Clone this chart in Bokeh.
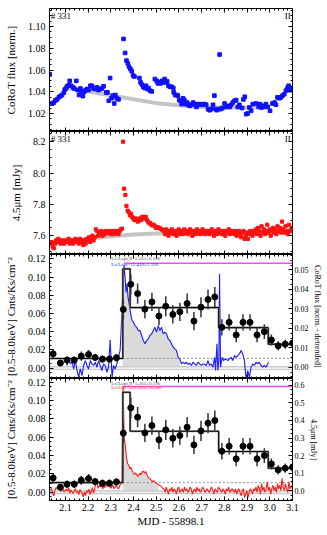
import numpy as np
from bokeh.plotting import figure
from bokeh.models import (Range1d, LinearAxis, FixedTicker, PrintfTickFormatter, Label,
                          CustomLabelingPolicy)
from bokeh.layouts import column
from bokeh.embed import file_html
from bokeh.resources import INLINE

FONT = "Liberation Serif"

# ---------------- Panel 1: CoRoT flux (normalised) ----------------
corot_t = [2.031,2.034,2.042,2.049,2.056,2.064,2.071,2.078,2.085,2.093,
           2.097,2.103,2.107,2.115,2.119,2.125,2.134,2.139,2.148,2.154,
           2.160,2.166,2.170,2.177,2.183,2.189,2.195,2.202,2.210,2.217,
           2.224,2.231,2.239,2.246,2.253,2.261,2.268,2.280,2.285,2.291,
           2.297,2.303,2.309,2.315,2.320,2.326,2.334,2.356,2.363,2.369,
           2.375,2.380,2.386,2.392,2.398,2.404,2.426,2.431,2.437,2.443,
           2.449,2.455,2.461,2.466,2.472,2.480,2.494,2.502,2.507,2.513,
           2.519,2.525,2.531,2.537,2.542,2.548,2.554,2.560,2.567,2.575,
           2.577,2.583,2.589,2.595,2.601,2.607,2.612,2.618,2.624,2.630,
           2.636,2.642,2.647,2.655,2.662,2.669,2.677,2.684,2.691,2.699,
           2.706,2.713,2.720,2.728,2.735,2.742,2.750,2.756,2.761,2.767,
           2.773,2.779,2.785,2.791,2.801,2.808,2.815,2.823,2.830,2.837,
           2.845,2.852,2.859,2.866,2.878,2.884,2.890,2.896,2.903,2.910,
           2.918,2.925,2.939,2.951,2.957,2.963,2.969,2.976,2.983,2.991,
           3.001,3.012,3.021,3.027,3.034,3.042,3.049,3.056,3.064,3.071,
           3.078,3.083,3.088,3.094,3.100]
corot_flux = [1.056,1.029,1.029,1.030,1.032,1.033,1.035,1.036,1.037,1.039,
              1.042,1.043,1.045,1.046,1.050,1.0455,1.044,1.043,1.050,1.0415,
              1.037,1.043,1.040,1.036,1.040,1.0415,1.0425,1.0415,1.0455,1.0455,
              1.043,1.0425,1.044,1.0415,1.0425,1.043,1.045,1.0394,1.0394,1.0317,
              1.0526,1.034,1.0364,1.0292,1.037,1.034,1.033,1.0886,1.0757,1.0686,
              1.066,1.063,1.061,1.059,1.055,1.054,1.0526,1.0486,1.0465,1.0446,
              1.0434,1.0455,1.0425,1.0434,1.041,1.0403,1.0517,1.050,1.0477,1.0486,
              1.0477,1.050,1.0486,1.0517,1.0486,1.0495,1.0455,1.0446,1.0446,1.0434,
              1.0394,1.037,1.037,1.0364,1.0323,1.0317,1.0286,1.034,1.0323,1.0286,
              1.030,1.028,1.027,1.028,1.030,1.0286,1.026,1.0286,1.028,1.0286,
              1.028,1.0286,1.028,1.024,1.023,1.024,1.028,1.0364,1.024,1.023,
              1.024,1.0742,1.024,1.025,1.0292,1.026,1.027,1.026,1.028,1.030,
              1.0317,1.0323,1.026,1.028,1.025,1.033,1.0354,1.0194,1.020,1.0255,
              1.0225,1.0286,1.0292,1.026,1.0286,1.0255,1.027,1.026,1.0286,1.026,
              1.0225,1.0292,1.030,1.028,1.0348,1.034,1.0348,1.0364,1.0378,1.041,
              1.0434,1.0455,1.0415,1.0434,1.0415]
corot_trend_t = [2.11, 2.2, 2.3, 2.4, 2.5, 2.6, 2.7, 2.8, 2.9, 3.0]
corot_trend = [1.0435, 1.0405, 1.0365, 1.033, 1.0295, 1.0275, 1.026, 1.0255, 1.0255, 1.026]

# ---------------- Panel 2: 4.5 micron flux ----------------
irac_t0 = 2.034
irac_dt = 0.005
irac_flux = [7.55,7.56,7.53,7.52,7.55,7.57,7.56,7.58,7.57,7.55,7.56,7.57,7.55,7.56,
             7.57,7.56,7.58,7.55,7.57,7.56,7.55,7.57,7.58,7.56,7.57,7.55,7.58,7.57,7.56,7.54,7.57,7.55,7.58,7.57,
             7.59,7.56,7.58,7.60,7.57,7.59,
             7.64,7.63,7.60,7.62,7.61,7.63,7.60,7.62,7.61,7.63,7.62,7.62,7.63,7.61,7.62,7.63,7.61,7.62,7.63,7.62,7.61,7.63,7.64,7.645,
             8.20,7.90,7.86,7.79,7.76,7.75,7.73,7.74,7.72,7.71,7.70,7.71,7.70,7.69,7.70,7.71,7.70,7.72,7.72,7.71,
             7.72,7.70,7.69,7.68,7.68,7.67,7.665,7.67,7.66,7.65,7.655,7.65,7.65,7.645,7.64,7.635,
             7.63,7.61,7.64,7.62,7.60,7.63,7.62,7.64,7.61,7.63,7.62,7.60,7.63,7.64,7.61,7.62,7.63,7.61,7.64,7.62,
             7.63,7.61,7.62,7.64,7.63,7.60,7.62,7.63,7.61,7.64,7.62,7.63,7.61,7.62,7.64,7.63,7.61,7.62,7.63,7.62,
             7.61,7.63,7.64,7.62,7.60,7.63,7.62,7.61,7.64,7.63,7.62,7.61,7.63,7.62,7.60,7.63,7.62,7.64,7.61,7.62,
             7.63,7.62,7.61,7.63,7.60,7.62,7.63,7.61,7.59,7.62,7.63,7.58,7.60,7.62,7.58,7.61,7.63,7.62,7.60,7.63,
             7.62,7.64,7.61,7.65,7.63,7.60,7.66,7.62,7.64,7.61,7.63,7.67,7.62,7.64,7.60,7.63,7.65,7.62,7.64,7.61,
             7.66,7.63,7.65,7.62,7.69,7.64,7.62,7.66,7.63,7.61,7.67,7.63,7.64,7.65]
irac_trend_t = [2.03, 2.1, 2.2, 2.3, 2.4, 2.5, 2.6, 2.8, 3.0, 3.1]
irac_trend = [7.545, 7.56, 7.58, 7.597, 7.608, 7.614, 7.617, 7.62, 7.622, 7.623]

# ---------------- X-ray light curve (panels 3 & 4) ----------------
xray_t = [2.046,2.078,2.107,2.139,2.170,2.202,2.231,2.263,2.294,2.325,
          2.355,2.388,2.418,2.450,2.481,2.512,2.542,2.573,2.604,2.636,
          2.666,2.697,2.728,2.758,2.789,2.821,2.852,2.882,2.913,2.944,
          2.976,3.007,3.037,3.068,3.100]
xray_rate = [0.0156,0.0055,0.0087,0.0087,0.0131,0.0149,0.0116,0.0098,0.0098,0.0113,
             0.0644,0.0920,0.0818,0.0647,0.0727,0.0571,0.0680,0.0589,0.0618,0.0709,
             0.0516,0.0669,0.0753,0.0782,0.0447,0.0502,0.0364,0.0502,0.0502,0.0364,
             0.0400,0.0309,0.0244,0.0262,0.0273]
xray_err = [0.005,0.003,0.004,0.004,0.005,0.005,0.004,0.004,0.004,0.004,
            0.011,0.011,0.011,0.010,0.010,0.010,0.011,0.010,0.010,0.011,
            0.010,0.011,0.011,0.011,0.009,0.009,0.008,0.009,0.009,0.008,
            0.008,0.006,0.005,0.005,0.005]
block_edges = [2.03, 2.353, 2.385, 2.775, 2.993, 3.1]
block_rate = [0.0105, 0.109, 0.0665, 0.0444, 0.0262, 0.0262]
quiescent_rate = 0.0105
quiescent_t = [2.353, 3.1]
ratio_line_t = [2.357, 3.1]
ratio_line_y = 0.1153
flare_window_opt = [2.3526, 2.604]
flare_window_ir = [2.353, 2.512]

# detrended CoRoT (right axis of panel 3)
det_corot_t = [2.1029,2.1073,2.1146,2.1219,2.1292,2.1365,2.1438,2.1511,2.1584,2.1657,
               2.1730,2.1803,2.1876,2.1949,2.2022,2.2095,2.2168,2.2241,2.2314,2.2387,
               2.2460,2.2533,2.2606,2.2679,2.2752,2.2825,2.2898,2.2971,2.3015,2.3058,
               2.3117,2.3190,2.3263,2.3336,2.3409,2.3482,2.3526,2.3584,2.3628,2.3672,
               2.3715,2.3759,2.3818,2.3876,2.3934,2.3993,2.4066,2.4139,2.4212,2.4285,
               2.4358,2.4431,2.4504,2.4577,2.4650,2.4723,2.4796,2.4869,2.4942,2.5015,
               2.5088,2.5161,2.5234,2.5307,2.5380,2.5453,2.5526,2.5599,2.5672,2.5745,
               2.5818,2.5891,2.5964,2.6036,2.6109,2.6182,2.6255,2.6328,2.6401,2.6474,
               2.6547,2.6620,2.6693,2.6766,2.6839,2.6912,2.6985,2.7058,2.7131,2.7204,
               2.7277,2.7350,2.7423,2.7496,2.7569,2.7613,2.7672,2.7715,2.7759,2.7788,
               2.7832,2.7905,2.7964,2.8051,2.8153,2.8226,2.8299,2.8372,2.8445,2.8518,
               2.8591,2.8664,2.8737,2.8810,2.8883,2.8956,2.9029,2.9102,2.9175,2.9248,
               2.9321,2.9394,2.9467,2.9540,2.9613,2.9686,2.9759,2.9832,2.9905,2.9949]
det_corot = [0.0034,0.0009,0.0051,0.0017,0.0026,-0.0009,0.0034,-0.0017,-0.0051,-0.0009,
             -0.0043,0.0009,0.0034,0.0009,-0.0009,0.0034,0.0017,0.0009,0.0026,0.0,
             0.0034,0.0009,-0.0017,0.0017,0.0009,-0.0026,0.0,0.0140,0.0034,-0.0051,
             0.0009,-0.0009,0.0017,0.0051,0.0086,0.0257,0.0394,0.0522,0.0462,0.0385,
             0.0428,0.0360,0.0317,0.0274,0.0240,0.0231,0.0214,0.0205,0.0188,0.0188,
             0.0163,0.0137,0.0120,0.0137,0.0146,0.0163,0.0171,0.0188,0.0205,0.0180,
             0.0214,0.0188,0.0205,0.0171,0.0180,0.0171,0.0146,0.0137,0.0120,0.0103,
             0.0094,0.0086,0.0051,0.0043,0.0017,0.0026,0.0017,0.0026,0.0014,0.0021,
             0.0009,0.0026,0.0017,0.0009,0.0026,0.0017,0.0009,0.0017,0.0014,0.0009,
             0.0034,0.0009,0.0017,0.0,0.0051,-0.0017,0.0120,-0.0017,0.0034,0.0479,
             0.0,0.0051,0.0034,0.0043,0.0034,0.0043,0.0051,0.0034,0.0060,0.0051,
             0.0060,0.0068,0.0086,0.0068,0.0034,-0.0060,-0.0017,-0.0051,0.0,0.0017,
             0.0009,0.0026,0.0017,0.0026,0.0009,0.0,0.0009,0.0,0.0017,0.0026]

# detrended 4.5 micron (right axis of panel 4), same sampling as panel 2
det_irac = [0.004,0.013,-0.018,-0.029,0.0,0.019,0.008,0.027,0.016,-0.005,0.004,0.013,-0.008,0.001,
            0.009,-0.002,0.017,-0.014,0.005,-0.006,-0.017,0.002,0.011,-0.010,-0.001,-0.022,0.007,-0.004,-0.015,-0.036,-0.007,-0.028,0.001,-0.010,
            0.009,-0.022,-0.002,0.017,-0.014,0.005,
            0.054,0.043,0.013,0.032,0.021,0.040,0.009,0.028,0.017,0.037,0.026,0.025,0.034,0.013,0.023,0.032,0.011,0.020,0.030,0.019,0.009,0.028,0.038,0.042,
            0.596,0.296,0.255,0.185,0.155,0.144,0.124,0.133,0.113,0.102,0.092,0.102,0.091,0.081,0.091,0.100,0.090,0.110,0.109,0.099,
            0.109,0.089,0.078,0.068,0.068,0.058,0.052,0.057,0.047,0.045,0.040,0.035,0.030,0.028,0.020,0.012,
            0.010,-0.010,0.020,0.000,-0.020,0.010,0.000,0.020,-0.010,0.010,0.000,-0.020,0.010,0.020,-0.010,0.000,0.010,-0.010,0.020,0.000,
            0.010,-0.010,0.000,0.020,0.010,-0.020,0.000,0.010,-0.010,0.020,0.000,0.010,-0.010,0.000,0.020,0.010,-0.010,0.000,0.010,0.000,
            -0.010,0.010,0.020,0.000,-0.020,0.010,0.000,-0.010,0.020,0.010,0.000,-0.010,0.010,0.000,-0.020,0.010,0.000,0.020,-0.010,0.000,
            0.010,0.000,-0.010,0.010,-0.020,0.000,0.010,-0.010,-0.030,0.000,0.010,-0.040,-0.020,0.000,-0.040,-0.010,0.010,0.000,-0.020,0.010,
            0.000,0.020,-0.010,0.030,0.010,-0.020,0.040,0.000,0.020,-0.010,0.010,0.050,0.000,0.020,-0.020,0.010,0.030,0.000,0.020,-0.010,
            0.040,0.010,0.030,0.000,0.070,0.020,0.000,0.040,0.010,-0.010,0.050,0.010,0.020,0.030]

star_id = "# 331"
star_class = "II"
ratio_gray = "Lx/Lopt,II=5.263±0.196"
ratio_opt = "Lx/Lopt=11.410±1.330"
ratio_ir = "Lx/LIR=223.910±78.580"

irac_t = np.round(irac_t0 + irac_dt * np.arange(len(irac_flux)), 4)

X0, X1 = 2.03, 3.1
XR = Range1d(X0, X1)
FW = 243
X_TICKS = [2.1, 2.2, 2.3, 2.4, 2.5, 2.6, 2.7, 2.8, 2.9, 3.0, 3.1]
X_MINOR = list(np.round(np.arange(2.04, 3.1, 0.02), 3))


def style_axis(ax, labels=True, size="10px"):
    ax.major_tick_in = 4
    ax.major_tick_out = 0
    ax.minor_tick_in = 2
    ax.minor_tick_out = 0
    ax.axis_line_color = "black"
    ax.major_tick_line_color = "black"
    ax.minor_tick_line_color = "black"
    ax.major_label_text_font = FONT
    ax.major_label_text_color = "black"
    ax.axis_label_text_font = FONT
    ax.axis_label_text_font_style = "normal"
    ax.axis_label_text_color = "black"
    ax.major_label_text_font_size = size
    if labels:
        ax.major_label_standoff = 4
    else:
        ax.major_label_standoff = 0
        ax.major_label_policy = CustomLabelingPolicy(code="return [];")


def make_fig(yr, fh, top=0, bottom_labels=False):
    p = figure(frame_width=FW, frame_height=fh, x_range=XR, y_range=yr,
               output_backend="svg", toolbar_location=None,
               min_border_left=49, min_border_right=30,
               min_border_top=top, min_border_bottom=0)
    p.title.visible = False
    p.grid.visible = False
    p.outline_line_color = "black"
    p.outline_line_width = 1
    p.background_fill_color = "white"
    p.border_fill_color = "white"
    xa = p.xaxis[0]
    xa.ticker = FixedTicker(ticks=X_TICKS, minor_ticks=X_MINOR)
    xa.formatter = PrintfTickFormatter(format="%.1f")
    style_axis(xa, labels=bottom_labels)
    if bottom_labels:
        xa.axis_label = "MJD - 55898.1"
        xa.axis_label_text_font_size = "11px"
        xa.axis_label_standoff = 1
        xa.major_label_standoff = 3
    else:
        xa.fixed_location = yr.start
    ta = LinearAxis(ticker=FixedTicker(ticks=X_TICKS, minor_ticks=X_MINOR))
    style_axis(ta, labels=False)
    ta.fixed_location = yr.end
    p.add_layout(ta, "above")
    return p


def left_axis(p, ticks, minor, fmt, label):
    ya = p.yaxis[0]
    ya.ticker = FixedTicker(ticks=ticks, minor_ticks=minor)
    ya.formatter = PrintfTickFormatter(format=fmt)
    style_axis(ya)
    ya.axis_label = label
    ya.axis_label_text_font_size = "11px"
    ya.axis_label_standoff = 8


def mirror_right(p, ticks, minor):
    ra = LinearAxis(ticker=FixedTicker(ticks=ticks, minor_ticks=minor))
    style_axis(ra, labels=False)
    ra.fixed_location = X1
    p.add_layout(ra, "right")


def right_axis(p, ticks, minor, fmt, label):
    ra = LinearAxis(y_range_name="r", ticker=FixedTicker(ticks=ticks, minor_ticks=minor),
                    formatter=PrintfTickFormatter(format=fmt), axis_label=label)
    style_axis(ra, size="8px")
    ra.major_label_standoff = 2
    ra.axis_label_text_font_size = "8px"
    ra.axis_label_standoff = 1
    p.add_layout(ra, "right")


# ---------- panel 1 ----------
p1 = make_fig(Range1d(1.0034, 1.1166), 123, top=8)
t1 = [1.02, 1.04, 1.06, 1.08, 1.10]
m1 = list(np.round(np.arange(1.005, 1.116, 0.005), 3))
left_axis(p1, t1, m1, "%.2f", "CoRoT flux [norm.]")
mirror_right(p1, t1, m1)
p1.line(corot_trend_t, corot_trend, line_color="#c4c4c4", line_width=4)
p1.scatter(corot_t, corot_flux, marker="square", size=3.6, fill_color="#1010ff", line_color="#1010ff")
p1.add_layout(Label(x=2.035, y=1.1146, text=star_id, text_font=FONT, text_font_size="9px",
                    text_baseline="top", text_color="black"))
p1.add_layout(Label(x=3.092, y=1.1146, text=star_class, text_font=FONT, text_font_size="9px",
                    text_baseline="top", text_align="right", text_color="black"))

# ---------- panel 2 ----------
p2 = make_fig(Range1d(7.48, 8.265), 123)
t2 = [7.6, 7.8, 8.0, 8.2]
m2 = list(np.round(np.arange(7.5, 8.26, 0.05), 3))
left_axis(p2, t2, m2, "%.1f", "4.5μm [mJy]")
mirror_right(p2, t2, m2)
p2.line(irac_trend_t, irac_trend, line_color="#c4c4c4", line_width=4)
p2.scatter(irac_t, irac_flux, marker="square", size=3.2, fill_color="#ff1010", line_color="#ff1010")
p2.add_layout(Label(x=2.035, y=8.251, text=star_id, text_font=FONT, text_font_size="9px",
                    text_baseline="top", text_color="black"))
p2.add_layout(Label(x=3.092, y=8.251, text=star_class, text_font=FONT, text_font_size="9px",
                    text_baseline="top", text_align="right", text_color="black"))


def xray_panel(p, y_top_text, line_t, line_y, rname, color, win, ratio_text, label_dy):
    lt = np.array(line_t)
    ly = np.array(line_y)
    m = (lt >= win[0]) & (lt <= win[1])
    p.varea(x=lt[m], y1=np.zeros(m.sum()), y2=ly[m], fill_color="#dadada", y_range_name=rname)
    p.line([X0, X1], [0, 0], line_color="#c8c8c8", line_width=4)
    p.line([X0, X1], [0, 0], line_color="white", line_width=1.2)
    p.line(quiescent_t, [quiescent_rate, quiescent_rate], line_color="#777777", line_width=0.8, line_dash="2 2")
    p.line(lt, ly, line_color=color, line_width=1.1, y_range_name=rname)
    p.step(block_edges, block_rate, mode="after", line_color="#888888", line_width=2.2)
    p.step(block_edges, block_rate, mode="after", line_color="black", line_width=1.0)
    xr = np.array(xray_rate)
    xe = np.array(xray_err)
    p.segment(x0=xray_t, y0=xr - xe, x1=xray_t, y1=xr + xe, line_color="#333333", line_width=1.5)
    p.scatter(xray_t, xray_rate, size=6, fill_color="black", line_color="black")
    p.line(ratio_line_t, [ratio_line_y, ratio_line_y], line_color="#f050f0", line_width=1.5)
    p.add_layout(Label(x=2.302, y=y_top_text, text=ratio_gray, text_font=FONT, text_font_size="5px",
                       text_baseline="middle", text_color="#555555"))
    p.add_layout(Label(x=2.302, y=y_top_text - label_dy, text=ratio_text, text_font=FONT, text_font_size="5px",
                       text_baseline="middle", text_color=color))


t3 = [0.0, 0.02, 0.04, 0.06, 0.08, 0.10, 0.12]
m3 = list(np.round(np.arange(-0.01, 0.125, 0.005), 3))
xlabel = "[0.5-8.0keV] Cnts/Ks/cm⁻²"

# ---------- panel 3 ----------
p3 = make_fig(Range1d(-0.0115, 0.1248), 124)
p3.extra_y_ranges = {"r": Range1d(-0.0058, 0.0579)}
left_axis(p3, t3, m3, "%.2f", xlabel)
right_axis(p3, [0.0, 0.01, 0.02, 0.03, 0.04, 0.05],
           list(np.round(np.arange(-0.005, 0.058, 0.0025), 4)), "%.2f", "CoRoT flux [norm. - detrended]")
xray_panel(p3, 0.1200, det_corot_t, det_corot, "r", "#1a1aff", flare_window_opt, ratio_opt, 0.0057)

# ---------- panel 4 ----------
p4 = make_fig(Range1d(-0.009, 0.124), 122, bottom_labels=True)
p4.extra_y_ranges = {"r": Range1d(-0.056, 0.639)}
left_axis(p4, t3, m3, "%.2f", xlabel)
right_axis(p4, [0.0, 0.1, 0.2, 0.3, 0.4, 0.5, 0.6],
           list(np.round(np.arange(-0.05, 0.64, 0.025), 3)), "%.1f", "4.5μm [mJy]")
xray_panel(p4, 0.1190, list(irac_t), det_irac, "r", "#ff1a1a", flare_window_ir, ratio_ir, 0.0045)

layout = column(p1, p2, p3, p4, spacing=0)
open("out.html", "w").write(file_html(layout, INLINE))
